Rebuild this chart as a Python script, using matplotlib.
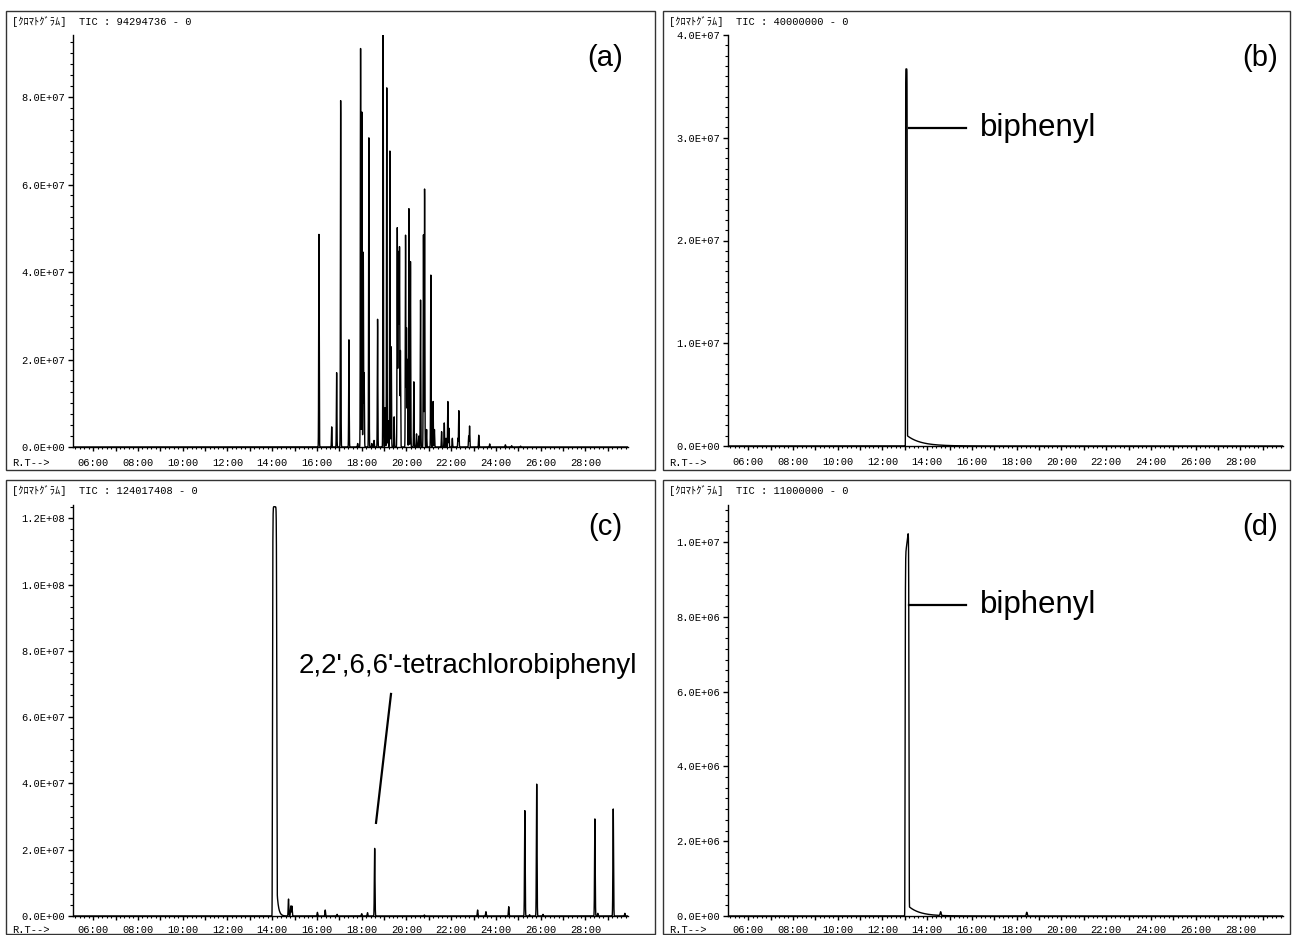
import numpy as np
import matplotlib
matplotlib.use("Agg")
import matplotlib.pyplot as plt
from matplotlib.ticker import MultipleLocator, AutoMinorLocator, FuncFormatter
from matplotlib.patches import Rectangle

# ---- data (time in min, height in counts) ----
# (a) narrow peaks
a_rt = [16.09, 16.66, 16.88, 17.06, 17.43, 17.82, 17.95, 18.01, 18.07, 18.11,
        18.32, 18.45, 18.55, 18.71, 18.96, 19.05, 19.12, 19.18, 19.26, 19.32,
        19.45, 19.59, 19.63, 19.66, 19.69, 19.73, 19.96, 20.00, 20.04, 20.11,
        20.18, 20.33, 20.45, 20.55, 20.63, 20.76, 20.81, 20.90, 21.09, 21.19,
        21.25, 21.57, 21.69, 21.77, 21.85, 21.90, 22.05, 22.30, 22.34, 22.78,
        22.82, 23.23, 23.72, 24.42, 24.70, 25.10]
a_h = [4.86, 0.46, 1.70, 7.92, 2.45, 0.08, 9.11, 7.66, 4.45, 1.69,
       7.07, 0.08, 0.15, 2.92, 9.43, 0.90, 8.21, 0.60, 6.77, 2.29,
       0.69, 5.01, 4.39, 3.00, 4.50, 2.20, 4.84, 2.72, 2.00, 5.45,
       4.24, 1.49, 0.30, 0.25, 3.36, 4.85, 5.90, 0.40, 3.93, 1.04,
       0.40, 0.35, 0.55, 0.20, 1.04, 0.43, 0.20, 0.20, 0.83, 0.25,
       0.48, 0.27, 0.07, 0.05, 0.03, 0.02]  # x1e7

# (b) biphenyl standard
b_main = (13.07, 3.67e7, 0.04)       # centre, height, half width
b_tail = (13.11, 1.0e6, 0.6)         # start, amplitude, decay

# (c) sample
c_solvent = (14.11, 1.235e8, 0.10)
c_tail = (14.21, 8.0e6, 0.07)
c_rt = [14.73, 14.83, 14.88, 16.02, 16.37, 16.90, 18.00, 18.26, 18.58, 20.80,
        23.18, 23.55, 24.57, 25.29, 25.50, 25.82, 26.10, 28.42, 28.55, 29.24, 29.76]
c_h = [0.51, 0.30, 0.30, 0.11, 0.18, 0.05, 0.07, 0.10, 2.04, 0.03,
       0.18, 0.13, 0.28, 3.18, 0.04, 3.98, 0.05, 2.93, 0.08, 3.23, 0.08]  # x1e7

# (d) biphenyl
d_main = (13.10, 1.00e7, 0.09)
d_tail = (13.19, 2.5e5, 0.5)
d_rt = [14.60, 18.45]
d_h = [1.0e5, 1.0e5]

tic_max = [94294736, 40000000, 124017408, 11000000]
panel_tags = ["(a)", "(b)", "(c)", "(d)"]

W, H = 1296, 935
t = np.linspace(5.1, 29.9, 30000)


def gauss(t0, h, s):
    return h * np.exp(-0.5 * ((t - t0) / s) ** 2)


def plateau(t0, h, hw):
    return h * np.exp(-np.abs((t - t0) / hw) ** 10)


def tail(t0, a, tau):
    return np.where(t >= t0, a * np.exp(-(t - t0) / tau), 0.0)


ya = sum(gauss(r, h * 1e7, 0.011) for r, h in zip(a_rt, a_h))
yb = plateau(*b_main) + tail(*b_tail)
yc = plateau(*c_solvent) + tail(*c_tail) + sum(gauss(r, h * 1e7, 0.014) for r, h in zip(c_rt, c_h))
yd = plateau(*d_main) * (1 + 0.5 * (t - d_main[0])) + tail(*d_tail) + sum(gauss(r, h, 0.02) for r, h in zip(d_rt, d_h))
traces = [ya, yb, yc, yd]

mono = ["Liberation Mono", "Noto Sans CJK JP"]

fig = plt.figure(figsize=(W / 100, H / 100), dpi=100)

# panel frames (pixels): x0, y0(top), x1, y1(bottom)
frames = [(6, 11, 655, 470), (663, 11, 1290, 470), (6, 480, 655, 934), (663, 480, 1290, 934)]
# axes (pixels): left, bottom y, right, top y
axes_px = [(73, 447, 628, 34.5), (728, 446, 1283, 35), (73, 916, 628, 505), (728, 916, 1283, 504.6)]
major_y = [2e7, 1e7, 2e7, 2e6]
minor_n = [8, 10, 6, 7]


def yfmt(v, pos):
    s = "%.1E" % v
    return s


def xfmt(v, pos):
    m = int(round(v))
    if m % 2:
        return ""
    return "%02d:00" % m


for i in range(4):
    x0, y0, x1, y1 = frames[i]
    fig.add_artist(Rectangle((x0 / W, 1 - y1 / H), (x1 - x0) / W, (y1 - y0) / H,
                             transform=fig.transFigure, fill=False, ec="#333333", lw=1.0))
    l, b, r, tp = axes_px[i]
    ax = fig.add_axes([l / W, 1 - b / H, (r - l) / W, (b - tp) / H])
    ax.plot(t, traces[i], color="black", lw=1.0)
    ax.set_xlim(5.1, 29.9)
    ax.set_ylim(0, tic_max[i])
    for s in ["top", "right"]:
        ax.spines[s].set_visible(False)
    ax.spines["left"].set_linewidth(1.0)
    ax.spines["bottom"].set_linewidth(1.0)
    ax.xaxis.set_major_locator(MultipleLocator(1))
    ax.xaxis.set_minor_locator(MultipleLocator(0.2))
    ax.xaxis.set_major_formatter(FuncFormatter(xfmt))
    ax.yaxis.set_major_locator(MultipleLocator(major_y[i]))
    ax.yaxis.set_minor_locator(AutoMinorLocator(minor_n[i]))
    ax.yaxis.set_major_formatter(FuncFormatter(yfmt))
    xpad = 5 if i < 2 else 3.5
    ax.tick_params(axis="x", which="major", length=3, width=1, pad=xpad, labelsize=7.5)
    ax.tick_params(axis="x", which="minor", length=1.5, width=0.8)
    ax.tick_params(axis="y", which="major", length=3.5, width=1, pad=2, labelsize=7.5)
    ax.tick_params(axis="y", which="minor", length=2, width=0.8)
    for lab in ax.get_xticklabels() + ax.get_yticklabels():
        lab.set_family(mono)
    ax.patch.set_visible(False)

    # header and R.T label
    fig.text((x0 + 6) / W, 1 - (y0 + 11) / H,
             "[ｸﾛﾏﾄｸﾞﾗﾑ]  TIC : %d - 0" % tic_max[i],
             family=mono, fontsize=7.5, va="center", ha="left")
    rt_off = 16.5 if i < 2 else 14
    fig.text((x0 + 6) / W, 1 - (b + rt_off) / H, "R.T-->",
             family=mono, fontsize=7.5, va="center", ha="left")
    # panel tag
    fig.text((r - 23) / W, 1 - (y0 + 47) / H, panel_tags[i],
             family="Liberation Sans", fontsize=21, va="center", ha="center")

    if i in (1, 3):
        yl = 3.095e7 if i == 1 else 8.32e6
        ax.plot([13.19, 15.73], [yl, yl], color="black", lw=1.6, clip_on=False)
        ax.text(16.36, yl, "biphenyl", family="Liberation Sans", fontsize=22.5,
                va="center", ha="left")
    if i == 2:
        ax.plot([19.31, 18.64], [6.70e7, 2.81e7], color="black", lw=1.6)
        ax.text(22.73, 7.54e7, "2,2',6,6'-tetrachlorobiphenyl", family="Liberation Sans",
                fontsize=20, va="center", ha="center", clip_on=False)

fig.savefig("out.png", dpi=100)
